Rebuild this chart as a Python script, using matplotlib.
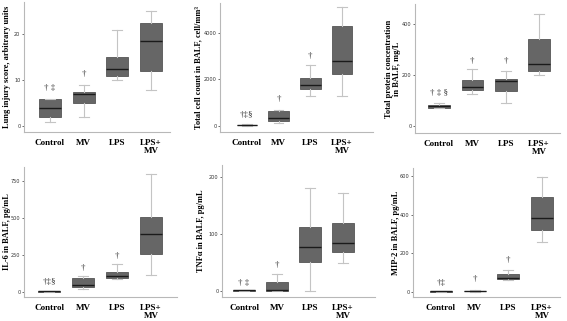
import matplotlib
matplotlib.use("Agg")
import matplotlib.pyplot as plt

# groups on the x axis
groups = ["Control", "MV", "LPS", "LPS+\nMV"]

# box stats per panel: (low whisker, q1, median, q3, high whisker) for each group
lung_injury = [(1, 2, 4, 6, 6), (2, 5, 7, 7.5, 9), (10, 11, 12.5, 15, 21), (8, 12, 18.5, 22.5, 25)]
cell_count = [(30, 40, 50, 70, 80), (150, 250, 350, 650, 700), (1300, 1600, 1750, 2050, 2600),
              (1300, 2250, 2800, 4300, 5100)]
protein = [(70, 73, 78, 85, 92), (128, 142, 155, 183, 225), (90, 140, 178, 185, 215),
           (200, 218, 245, 340, 440)]
il6 = [(0, 1, 2, 3, 5), (15, 30, 45, 92, 105), (85, 90, 107, 135, 185), (110, 255, 390, 510, 800)]
tnfa = [(0, 0, 0.5, 1, 1), (0, 0, 1, 15, 30), (0, 50, 77, 113, 181), (49, 69, 84, 120, 173)]
mip2 = [(0, 0, 1, 2, 3), (0, 1, 2, 4, 6), (60, 65, 72, 90, 110), (260, 320, 385, 490, 595)]

# significance marks and the value they sit at
lung_marks = [("\u2020 \u2021", 8.3), ("\u2020", 11.4), ("", 0), ("", 0)]
cell_marks = [("\u2020\u2021\u00a7", 500), ("\u2020", 1150), ("\u2020", 3000), ("", 0)]
protein_marks = [("\u2020 \u2021 \u00a7", 130), ("\u2020", 255), ("\u2020", 255), ("", 0)]
il6_marks = [("\u2020\u2021\u00a7", 68), ("\u2020", 158), ("\u2020", 241), ("", 0)]
tnfa_marks = [("\u2020 \u2021", 14), ("\u2020", 45), ("", 0), ("", 0)]
mip2_marks = [("\u2020\u2021", 47), ("\u2020", 64), ("\u2020", 165), ("", 0)]

ylabels = ["Lung injury score, arbitrary units",
           "Total cell count in BALF, cell/mm\u00b3",
           "Total protein concentration\nin BALF, mg/L",
           "IL-6 in BALF, pg/mL",
           "TNF\u03b1 in BALF, pg/mL",
           "MIP-2 in BALF, pg/mL"]
yticks = [[0, 10, 20], [0, 2000, 4000], [0, 200, 400],
          [0, 250, 500, 750], [0, 100, 200], [0, 200, 400, 600]]

W, H = 567, 321
fig = plt.figure(figsize=(W / 100, H / 100), dpi=100)

# pixel boxes (left, right, bottom, top), xlim, ylim, ylabel centre x in pixels
layout = [
    ((24, 170, 132, 2), (0.23, 4.56), (-1.2, 27), 7),
    ((220, 373, 132, 3), (0.15, 4.98), (-240, 5260), 198),
    ((415, 560, 133, 4), (0.28, 4.63), (-26, 478), 393),
    ((24, 177, 297, 167), (0.26, 4.76), (-36, 846), 7),
    ((222, 375, 297, 165), (0.33, 4.97), (-11, 222), 201),
    ((413, 560, 297, 168), (0.17, 4.53), (-28, 643), 396),
]
panels = [lung_injury, cell_count, protein, il6, tnfa, mip2]
marks = [lung_marks, cell_marks, protein_marks, il6_marks, tnfa_marks, mip2_marks]

serif = ["Liberation Serif", "DejaVu Serif"]
spine_col = "#b8b8b8"

for data, mk, lab, ticks, (box, xl, yl, labx) in zip(panels, marks, ylabels, yticks, layout):
    l, r, b, t = box
    ax = fig.add_axes([l / W, 1 - b / H, (r - l) / W, (b - t) / H])
    stats = [dict(whislo=s[0], q1=s[1], med=s[2], q3=s[3], whishi=s[4], fliers=[])
             for s in data]
    ax.bxp(stats, positions=[1, 2, 3, 4], widths=0.65, capwidths=0.3,
           showfliers=False, patch_artist=True,
           boxprops=dict(facecolor="#666666", edgecolor="#555555", linewidth=0.6),
           medianprops=dict(color="#1a1a1a", linewidth=1.0),
           whiskerprops=dict(color="#c4c4c4", linewidth=0.8),
           capprops=dict(color="#c4c4c4", linewidth=0.8))
    for i, (txt, yv) in enumerate(mk):
        if txt:
            ax.text(i + 1, yv, txt, ha="center", va="center", fontsize=6.5,
                    family=serif, color="#333333")
    ax.set_xlim(*xl)
    ax.set_ylim(*yl)
    ax.set_yticks(ticks)
    ax.set_xticks([1, 2, 3, 4])
    ax.set_xticklabels(groups, family=serif, fontweight="bold", fontsize=6.5,
                       linespacing=1.0)
    ax.tick_params(axis="x", length=0, pad=5)
    ax.tick_params(axis="y", length=1.5, width=0.5, pad=1, labelsize=3.6,
                   colors="#333333")
    ax.set_ylabel(lab, family=serif, fontweight="bold", fontsize=6,
                  linespacing=1.05, va="center", ha="center")
    ax.yaxis.set_label_coords((labx - l) / (r - l), 0.5)
    for side in ["top", "right"]:
        ax.spines[side].set_visible(False)
    for side in ["left", "bottom"]:
        ax.spines[side].set_color(spine_col)
        ax.spines[side].set_linewidth(0.8)

fig.savefig("out.png", dpi=100)
